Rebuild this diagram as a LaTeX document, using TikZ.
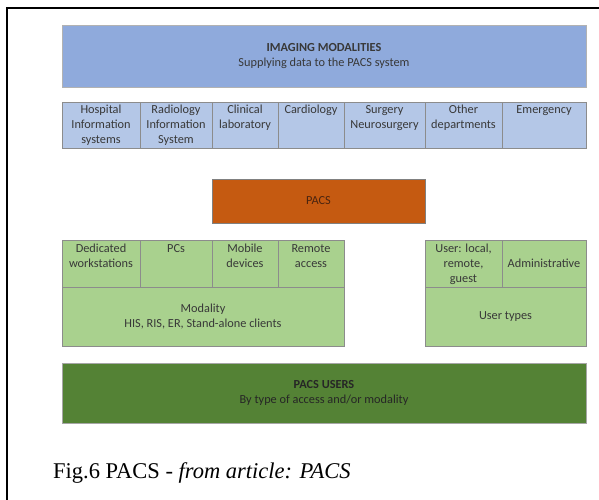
\documentclass[tikz,border=0pt]{standalone}
\usepackage{fontspec}
\setmainfont{Liberation Serif}
\newfontfamily\calibri{Carlito}
\usetikzlibrary{positioning}

\definecolor{imgblue}{HTML}{8FAADC}
\definecolor{deptblue}{HTML}{B4C7E7}
\definecolor{pacsorange}{HTML}{C55A11}
\definecolor{lightgreen}{HTML}{A9D18E}
\definecolor{darkgreen}{HTML}{548235}
\definecolor{textgray}{HTML}{383838}
\definecolor{pacstext}{HTML}{4A2410}

% fixed size cell, text from the top
\newcommand{\cellbox}[4][t]{\parbox[c][#2][#1]{#3}{\vspace{1.5pt}\centering\begin{tabular}{@{}c@{}}#4\end{tabular}\par}}

\begin{document}
\begin{tikzpicture}[x=1pt,y=-1pt]
  \useasboundingbox (0,0) rectangle (599,500);
  \tikzstyle{cell} = [outer sep=0pt, inner sep=0pt, draw=black!45, line width=0.6pt, text=textgray, align=center, font=\calibri\fontsize{12.3}{15}\selectfont]
  \tikzstyle{dept} = [cell, fill=deptblue]
  \tikzstyle{access} = [cell, fill=lightgreen]

  %Define nodes
  \node[cell, fill=imgblue, draw=black!30, minimum width=524pt, minimum height=62pt, anchor=north west] (imaging) at (62,25) {\textbf{IMAGING MODALITIES}\\Supplying data to the PACS system};

  \node[dept, below right=15pt and 0pt of imaging.south west] (his) {\cellbox{46pt}{78pt}{Hospital\\Information\\systems}};
  \node[dept, right=0pt of his] (ris) {\cellbox{46pt}{72pt}{Radiology\\Information\\System}};
  \node[dept, right=0pt of ris] (clinical) {\cellbox{46pt}{66pt}{Clinical\\laboratory}};
  \node[dept, right=0pt of clinical] (cardiology) {\cellbox{46pt}{66pt}{Cardiology}};
  \node[dept, right=0pt of cardiology] (surgery) {\cellbox{46pt}{81pt}{Surgery\\Neurosurgery}};
  \node[dept, right=0pt of surgery] (other) {\cellbox{46pt}{77pt}{Other\\departments}};
  \node[dept, right=0pt of other] (emergency) {\cellbox{46pt}{84pt}{Emergency}};

  \node[cell, fill=pacsorange, draw=black!50, text=pacstext, minimum width=213pt, minimum height=44pt, anchor=north west] (pacs) at (212,179) {PACS};

  % access side
  \node[access, anchor=north west] (dedicated) at (62,240) {\cellbox{47pt}{78pt}{Dedicated\\workstations}};
  \node[access, right=0pt of dedicated] (pcs) {\cellbox{47pt}{72pt}{PCs}};
  \node[access, right=0pt of pcs] (mobile) {\cellbox{47pt}{66pt}{Mobile\\devices}};
  \node[access, right=0pt of mobile] (remote) {\cellbox{47pt}{66pt}{Remote\\access}};
  \node[access, below right=0pt and 0pt of dedicated.south west, minimum width=282pt, minimum height=59pt] (modality) {Modality\\HIS, RIS, ER, Stand-alone clients};

  % user side
  \node[access, anchor=north west] (user) at (425,240) {\cellbox{47pt}{77pt}{User: local,\\remote,\\guest}};
  \node[access, right=0pt of user] (administrative) {\cellbox[c]{47pt}{84pt}{Administrative}};
  \node[access, below right=0pt and 0pt of user.south west, minimum width=161pt, minimum height=59pt] (user_types) {User types};

  \node[cell, fill=darkgreen, draw=black!35, text=black!85, minimum width=524pt, minimum height=60pt, below right=17pt and 0pt of modality.south west] (pacs_users) {\textbf{PACS USERS}\\By type of access and/or modality};

  % Caption and frame
  \node[anchor=base west, inner sep=0pt, font=\fontsize{22.5}{26}\selectfont] (caption) at (53,478) {Fig.6 PACS - \textit{from article: PACS}};
  \coordinate (frame_bl) at (7,500);
  \coordinate (frame_tl) at (7,8);
  \coordinate (frame_tr) at (599,8);
  \draw[line width=2pt] (frame_bl) -- (frame_tl) -- (frame_tr);

\end{tikzpicture}
\end{document}
